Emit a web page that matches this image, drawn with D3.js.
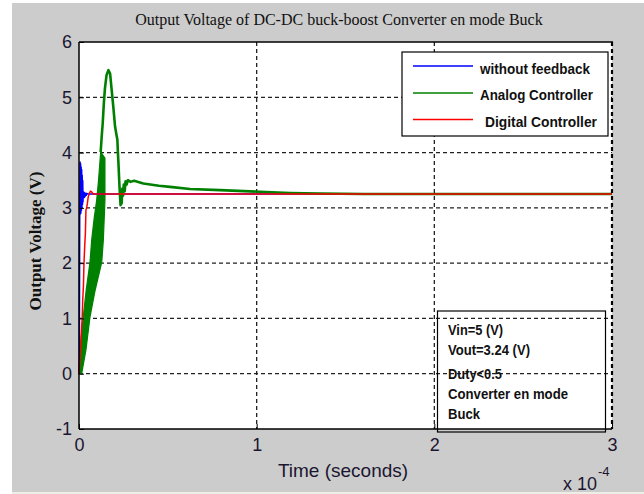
<!DOCTYPE html>
<html>
<head>
<meta charset="utf-8">
<script src="https://cdn.jsdelivr.net/npm/d3@7/dist/d3.min.js"></script>
<style>
  html, body { margin: 0; padding: 0; background: #ffffff; }
  svg { display: block; }
</style>
</head>
<body>
<svg id="chart" width="644" height="494"></svg>
<script>
// ---- Data (time in units of 1e-4 s, voltage in V) ----
const xTicks = [0, 1, 2, 3];
const yTicks = [-1, 0, 1, 2, 3, 4, 5, 6];

const seriesNames = ["without feedback", "Analog Controller", "Digital Controller"];
const seriesColors = ["#0000ff", "#008000", "#ff0000"];

// Blue: without feedback
const blueT = [0, 0.002, 0.004, 0.006, 0.0075, 0.009, 0.0105, 0.012, 0.0135, 0.015, 0.0165, 0.018, 0.0195, 0.021, 0.0225, 0.024, 0.026, 0.028, 0.030, 0.032, 0.034, 0.037, 0.040, 0.044, 0.050, 0.1, 3];
const blueV = [0, 0.3, 2.8, 3.84, 2.88, 3.80, 2.90, 3.75, 2.95, 3.70, 3.00, 3.60, 3.05, 3.50, 3.10, 3.30, 3.17, 3.29, 3.18, 3.28, 3.20, 3.27, 3.22, 3.26, 3.25, 3.25, 3.25];

// Red: digital controller
const redT = [0, 0.006, 0.015, 0.018, 0.021, 0.025, 0.028, 0.032, 0.036, 0.039, 0.043, 0.047, 0.052, 0.058, 0.064, 0.071, 0.080, 0.1, 3];
const redV = [0, 0.3, 0.85, 1.0, 1.33, 1.6, 2.0, 2.3, 2.54, 2.96, 3.0, 3.08, 3.2, 3.26, 3.3, 3.29, 3.25, 3.25, 3.25];

// Green: analog controller - ripple band envelope during start-up
const greenUpperT = [0, 0.006, 0.024, 0.040, 0.062, 0.0715, 0.085, 0.0996, 0.110, 0.122];
const greenUpperV = [0, 0.45, 1.03, 1.50, 2.02, 2.42, 2.80, 3.14, 3.50, 4.01];
const greenLowerT = [0.015, 0.039, 0.062, 0.090, 0.128, 0.137, 0.146, 0.146];
const greenLowerV = [0, 0.43, 1.03, 1.50, 2.02, 2.42, 3.14, 3.90];
// Green: analog controller - overshoot and settling
const greenT = [0.122, 0.128, 0.1335, 0.140, 0.146, 0.155, 0.1655, 0.175, 0.184, 0.193, 0.203, 0.212, 0.216, 0.219, 0.222, 0.227, 0.231, 0.234, 0.237, 0.240, 0.244, 0.248, 0.252, 0.257, 0.262, 0.268, 0.275, 0.290, 0.310, 0.362, 0.450, 0.512, 0.625, 0.794, 1.019, 1.188, 1.356, 1.600, 2.0, 3.0];
const greenV = [4.01, 4.30, 4.53, 4.90, 5.16, 5.40, 5.49, 5.43, 5.13, 4.83, 4.47, 4.30, 4.23, 4.00, 3.81, 3.45, 3.20, 3.05, 3.20, 3.08, 3.35, 3.22, 3.42, 3.30, 3.48, 3.42, 3.50, 3.47, 3.49, 3.44, 3.40, 3.38, 3.34, 3.32, 3.29, 3.27, 3.26, 3.25, 3.25, 3.25];

const annotationLines = ["Vin=5 (V)", "Vout=3.24 (V)", "Duty<0.5", "Converter en mode", "Buck"];

// ---- Layout ----
const W = 644, H = 494;
const L = 79, R = 612, T = 42, B = 429;

const svg = d3.select("#chart");

// figure background
svg.append("rect").attr("x", 0).attr("y", 0).attr("width", W).attr("height", H).attr("fill", "#ffffff");
svg.append("rect").attr("x", 12).attr("y", 3).attr("width", W - 12).attr("height", 489).attr("fill", "#cccccc");
svg.append("rect").attr("x", 12).attr("y", 492).attr("width", W - 12).attr("height", 2).attr("fill", "#eeeee6");

const x = d3.scaleLinear().domain([0, 3]).range([L, R]);
const y = d3.scaleLinear().domain([-1, 6]).range([B, T]);

// axes area
svg.append("rect").attr("x", L).attr("y", T).attr("width", R - L).attr("height", B - T).attr("fill", "#ffffff");

// grid
const grid = svg.append("g").attr("stroke", "#222").attr("stroke-width", 1.3).attr("stroke-dasharray", "4,3");
yTicks.filter(v => v > -1 && v < 6).forEach(v => {
  grid.append("line").attr("x1", L).attr("x2", R).attr("y1", y(v)).attr("y2", y(v));
});
xTicks.filter(v => v > 0 && v < 3).forEach(v => {
  grid.append("line").attr("x1", x(v)).attr("x2", x(v)).attr("y1", T).attr("y2", B);
});

// data
const pts = (ts, vs) => ts.map((t, i) => [t, vs[i]]);
const line = d3.line().x(d => x(d[0])).y(d => y(d[1]));
const plot = svg.append("g");

// green band polygon
const band = pts(greenUpperT, greenUpperV).concat(pts(greenLowerT, greenLowerV).reverse());
plot.append("path").attr("d", line(band) + "Z").attr("fill", seriesColors[1]).attr("stroke", seriesColors[1]).attr("stroke-width", 1.2);

plot.append("path").attr("d", line(pts(blueT, blueV))).attr("fill", "none").attr("stroke", seriesColors[0]).attr("stroke-width", 1.5);
plot.append("path").attr("d", line(pts(greenT, greenV))).attr("fill", "none").attr("stroke", seriesColors[1]).attr("stroke-width", 2.6).attr("stroke-linejoin", "round");
plot.append("path").attr("d", line(pts(redT, redV))).attr("fill", "none").attr("stroke", seriesColors[2]).attr("stroke-width", 1.5);

// axes
const axFont = "'Liberation Sans', Arial, sans-serif";
const fmt = d => String(d);
const yAxis = svg.append("g").attr("transform", `translate(${L},0)`)
  .call(d3.axisLeft(y).tickValues(yTicks).tickSize(-5).tickPadding(7).tickFormat(fmt));
const xAxis = svg.append("g").attr("transform", `translate(0,${B})`)
  .call(d3.axisBottom(x).tickValues(xTicks).tickSize(-5).tickPadding(9).tickFormat(fmt));
[xAxis, yAxis].forEach(g => {
  g.select(".domain").remove();
  g.selectAll(".tick line").attr("stroke", "#000");
  g.selectAll(".tick text").attr("font-family", axFont).attr("font-size", 18).attr("fill", "#1b1630");
});

// axes box
svg.append("line").attr("x1", L).attr("x2", L).attr("y1", T).attr("y2", B).attr("stroke", "#000").attr("stroke-width", 1.5);
svg.append("line").attr("x1", L).attr("x2", R).attr("y1", B).attr("y2", B).attr("stroke", "#000").attr("stroke-width", 1.5);
svg.append("line").attr("x1", L).attr("x2", R + 1).attr("y1", T).attr("y2", T).attr("stroke", "#000").attr("stroke-width", 1.5);
svg.append("line").attr("x1", R).attr("x2", R).attr("y1", T).attr("y2", B).attr("stroke", "#000").attr("stroke-width", 2.2).attr("stroke-dasharray", "4,3");

// title
svg.append("text").attr("x", 339).attr("y", 25).attr("text-anchor", "middle")
  .attr("font-family", "'Liberation Serif', 'Times New Roman', serif").attr("font-size", 16).attr("fill", "#111")
  .text("Output Voltage of DC-DC buck-boost Converter en mode Buck");

// y label
svg.append("text").attr("transform", "translate(41,241) rotate(-90)").attr("text-anchor", "middle")
  .attr("font-family", "'Liberation Serif', 'Times New Roman', serif").attr("font-size", 17).attr("font-weight", "bold").attr("fill", "#111")
  .text("Output Voltage (V)");

// x label
svg.append("text").attr("x", 343).attr("y", 477).attr("text-anchor", "middle")
  .attr("font-family", axFont).attr("font-size", 19).attr("fill", "#1b1630")
  .text("Time (seconds)");
const expo = svg.append("text").attr("x", 563).attr("y", 490).attr("font-family", axFont).attr("font-size", 18).attr("fill", "#1b1630");
expo.append("tspan").text("x 10");
expo.append("tspan").attr("font-size", 13).attr("dy", -14).attr("dx", 1).text("-4");

// legend
const legFont = "'Liberation Sans Narrow', 'Arial Narrow', 'Liberation Sans', Arial, sans-serif";
const lg = svg.append("g");
lg.append("rect").attr("x", 402).attr("y", 52).attr("width", 206).attr("height", 84).attr("fill", "#fff").attr("stroke", "#000").attr("stroke-width", 1.2);
const legLineY = [66, 93, 119.5];
const legTextX = [480, 480, 485];
const legTextY = [74, 100, 126.5];
const legTextW = [110, 113, 112];
seriesNames.forEach((name, i) => {
  lg.append("line").attr("x1", 413).attr("x2", 473).attr("y1", legLineY[i]).attr("y2", legLineY[i]).attr("stroke", seriesColors[i]).attr("stroke-width", 1.5);
  lg.append("text").attr("x", legTextX[i]).attr("y", legTextY[i]).attr("font-family", legFont).attr("font-weight", "bold").attr("font-size", 15)
    .attr("fill", "#111").attr("textLength", legTextW[i]).attr("lengthAdjust", "spacingAndGlyphs").text(name);
});

// annotation box
const an = svg.append("g");
an.append("rect").attr("x", 437.5).attr("y", 311).attr("width", 168).attr("height", 121).attr("fill", "none").attr("stroke", "#000").attr("stroke-width", 1.2);
const anY = [335, 354.5, 378.5, 399, 418.5];
const anW = [55, 82, 54, 120, 32];
annotationLines.forEach((t, i) => {
  an.append("text").attr("x", 448).attr("y", anY[i]).attr("font-family", legFont).attr("font-weight", "bold").attr("font-size", 14)
    .attr("fill", "#111").attr("textLength", anW[i]).attr("lengthAdjust", "spacingAndGlyphs").text(t);
});
</script>
</body>
</html>
